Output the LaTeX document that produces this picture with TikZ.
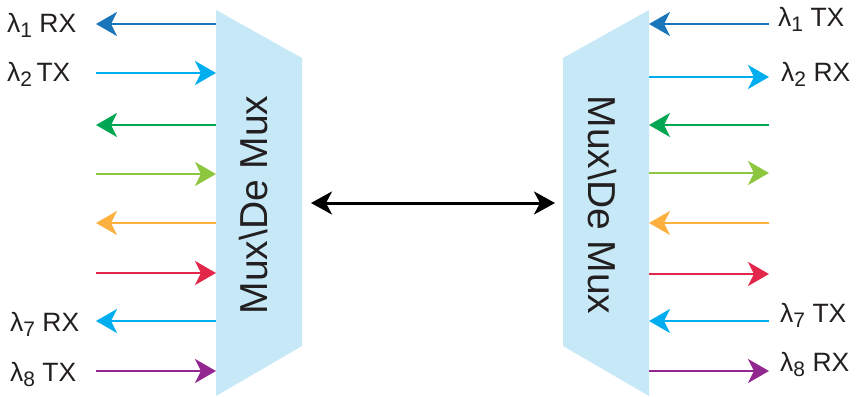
\documentclass[tikz,border=0pt]{standalone}
\usepackage{fontspec}
\setmainfont{Liberation Sans}
\usetikzlibrary{positioning}
\usetikzlibrary{arrows.meta}

\definecolor{muxblue}{HTML}{C6E8F7}
\definecolor{chA}{HTML}{1B75BB}
\definecolor{chB}{HTML}{00AEEF}
\definecolor{chC}{HTML}{00A651}
\definecolor{chD}{HTML}{8DC63F}
\definecolor{chE}{HTML}{FBB040}
\definecolor{chF}{HTML}{E2274A}
\definecolor{chG}{HTML}{00AEEF}
\definecolor{chH}{HTML}{92278F}
\definecolor{inkgray}{HTML}{231F20}

\newcommand{\chsub}[1]{\raisebox{-5pt}{\fontsize{21}{22}\selectfont #1}}

\begin{document}
\begin{tikzpicture}[x=1pt, y=-1pt,
            mux/.style={fill=muxblue, draw=none},
            muxlbl/.style={font=\fontsize{39}{44}\selectfont, text=inkgray, inner sep=0pt},
            fibre/.style={line width=2.8pt, -{Stealth[length=21pt, width=24pt, inset=6pt]}},
            trunk/.style={line width=3pt, black, {Stealth[length=21pt, width=23pt, inset=6pt]}-{Stealth[length=21pt, width=23pt, inset=6pt]}},
            chlbl/.style={font=\fontsize{26.5}{30}\selectfont, text=inkgray, inner sep=0pt, anchor=west}
        ]
            \useasboundingbox (0,0) rectangle (856,396);

            % the two mux/demux blocks
            \fill[mux] (216,10) -- (302,58) -- (302,346) -- (216,396) -- cycle;
            \fill[mux] (563,58) -- (649,10) -- (649,396) -- (563,346) -- cycle;
            \node[muxlbl, rotate=90] (muxa) at (254,205) {Mux\textbackslash De Mux};
            \node[muxlbl, rotate=-90] (muxb) at (602,205) {Mux\textbackslash De Mux};

            % line between the blocks
            \coordinate (ta) at (311,203);
            \coordinate (tb) at (555,203);
            \draw[trunk] (ta) -- (tb);

            % left side ports
            \coordinate (la1) at (96,24);   \coordinate (ma1) at (216,24);
            \coordinate (la2) at (96,73);   \coordinate (ma2) at (216,73);
            \coordinate (la3) at (96,125);  \coordinate (ma3) at (216,125);
            \coordinate (la4) at (96,174);  \coordinate (ma4) at (216,174);
            \coordinate (la5) at (96,223);  \coordinate (ma5) at (216,223);
            \coordinate (la6) at (96,273);  \coordinate (ma6) at (216,273);
            \coordinate (la7) at (96,321);  \coordinate (ma7) at (216,321);
            \coordinate (la8) at (96,371);  \coordinate (ma8) at (216,371);

            \draw[fibre, chA] (ma1) -- (la1);
            \draw[fibre, chB] (la2) -- (ma2);
            \draw[fibre, chC] (ma3) -- (la3);
            \draw[fibre, chD] (la4) -- (ma4);
            \draw[fibre, chE] (ma5) -- (la5);
            \draw[fibre, chF] (la6) -- (ma6);
            \draw[fibre, chG] (ma7) -- (la7);
            \draw[fibre, chH] (la8) -- (ma8);

            \node[chlbl] (rxa1) at (7,25) {λ\chsub{1} RX};
            \node[chlbl] (txa2) at (7,74) {λ\chsub{2}\,TX};
            \node[chlbl] (rxa7) at (10,324) {λ\chsub{7} RX};
            \node[chlbl] (txa8) at (10,374) {λ\chsub{8} TX};

            % right side ports
            \coordinate (mb1) at (649,24);   \coordinate (lb1) at (769,24);
            \coordinate (mb2) at (649,77);   \coordinate (lb2) at (769,77);
            \coordinate (mb3) at (649,125);  \coordinate (lb3) at (769,125);
            \coordinate (mb4) at (649,173);  \coordinate (lb4) at (769,173);
            \coordinate (mb5) at (649,223);  \coordinate (lb5) at (769,223);
            \coordinate (mb6) at (649,274);  \coordinate (lb6) at (769,274);
            \coordinate (mb7) at (649,321);  \coordinate (lb7) at (769,321);
            \coordinate (mb8) at (649,371);  \coordinate (lb8) at (769,371);

            \draw[fibre, chA] (lb1) -- (mb1);
            \draw[fibre, chB] (mb2) -- (lb2);
            \draw[fibre, chC] (lb3) -- (mb3);
            \draw[fibre, chD] (mb4) -- (lb4);
            \draw[fibre, chE] (lb5) -- (mb5);
            \draw[fibre, chF] (mb6) -- (lb6);
            \draw[fibre, chG] (lb7) -- (mb7);
            \draw[fibre, chH] (mb8) -- (lb8);

            \node[chlbl, right=9pt of lb1, yshift=5pt] (txb1) {λ\chsub{1} TX};
            \node[chlbl, right=12pt of lb2, yshift=3pt] (rxb2) {λ\chsub{2} RX};
            \node[chlbl, right=11pt of lb7, yshift=6pt] (txb7) {λ\chsub{7} TX};
            \node[chlbl, right=11pt of lb8, yshift=7pt] (rxb8) {λ\chsub{8} RX};
        \end{tikzpicture}
\end{document}
